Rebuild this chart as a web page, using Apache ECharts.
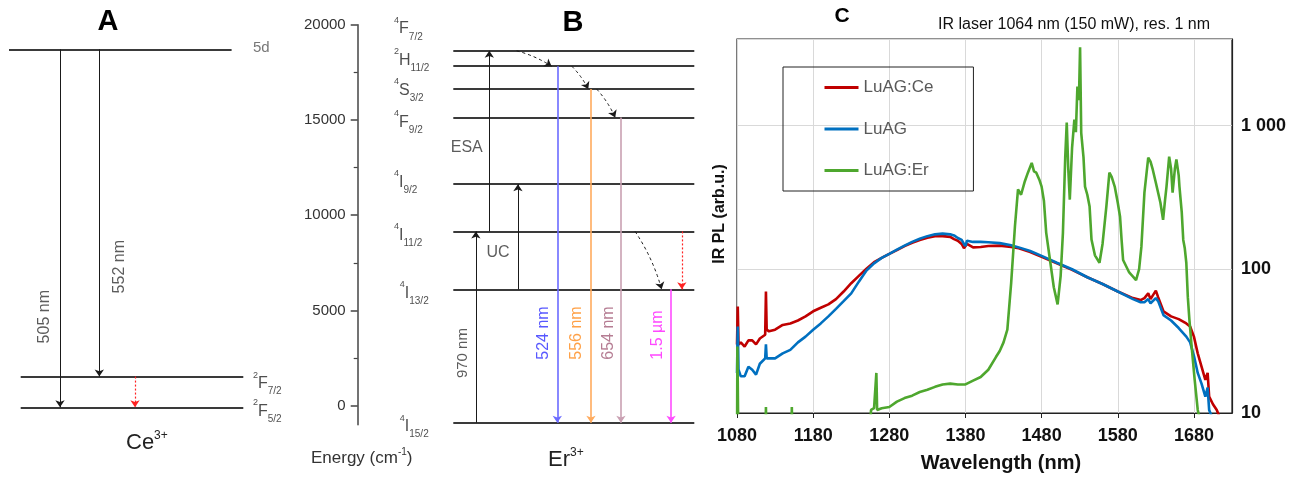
<!DOCTYPE html>
<html>
<head>
<meta charset="utf-8">
<script src="https://cdn.jsdelivr.net/npm/echarts@6/dist/echarts.min.js"></script>
<style>
html, body { margin: 0; background: #fff; }
#chart { width: 1296px; height: 477px; }
</style>
</head>
<body>
<div id="chart"></div>
<script>
/************************** A : Ce3+ levels **************************/
var ceLevelNames = ['5d', '2F7/2', '2F5/2'];
var ceLevelEnergy = [19800, 1700, 0];            // cm-1
var ceTransLabel = ['505 nm', '552 nm', ''];
var ceTransFrom = ['5d', '5d', '2F7/2'];
var ceTransTo = ['2F5/2', '2F7/2', '2F5/2'];
var ceTransKind = ['abs', 'abs', 'dot'];

/************************** B : Er3+ levels **************************/
var erLevelNames = ['4F7/2', '2H11/2', '4S3/2', '4F9/2', '4I9/2', '4I11/2', '4I13/2', '4I15/2'];
var erLevelEnergy = [18630, 17820, 16620, 15130, 11630, 9150, 6110, -890];
var energyTicks = [0, 5000, 10000, 15000, 20000];
var energyMinorTicks = [2500, 7500, 12500, 17500];
var erTransLabel = ['970 nm', 'ESA', 'UC', '524 nm', '556 nm', '654 nm', '1.5 µm', '', '', '', '', ''];
var erTransFrom = ['4I15/2', '4I11/2', '4I13/2', '2H11/2', '4S3/2', '4F9/2', '4I13/2', '4I11/2', '4F7/2', '2H11/2', '4S3/2', '4I11/2'];
var erTransTo = ['4I11/2', '4F7/2', '4I9/2', '4I15/2', '4I15/2', '4I15/2', '4I15/2', '4I13/2', '2H11/2', '4S3/2', '4F9/2', '4I13/2'];
var erTransKind = ['abs', 'abs', 'abs', 'blue', 'orange', 'mauve', 'magenta', 'dot', 'nr', 'nr', 'nr', 'nr'];

/************************** C : IR PL spectra **************************/
var wlTicks = [1080, 1180, 1280, 1380, 1480, 1580, 1680];
var wlCe = [1080, 1081, 1082, 1085, 1090, 1095, 1100, 1105, 1110, 1117, 1118, 1119, 1122, 1130, 1140, 1150,
    1160, 1170, 1180, 1190, 1200, 1210, 1220, 1230, 1240, 1250, 1260, 1270, 1280, 1290, 1300, 1310, 1320,
    1330, 1340, 1350, 1360, 1365, 1370, 1375, 1378, 1380, 1382, 1390, 1400, 1410, 1425, 1440, 1450, 1465,
    1480, 1500, 1520, 1540, 1560, 1580, 1600, 1610, 1615, 1620, 1623, 1630, 1633, 1640, 1650, 1660, 1670,
    1675, 1680, 1685, 1690, 1695, 1698, 1700, 1705, 1710, 1715];
var luagCe = [30, 55, 30, 31, 29, 32, 32, 30, 33, 35, 70, 38, 37, 38, 41, 42,
    44, 47, 51, 54, 57, 62, 70, 80, 90, 101, 112, 120, 128, 136, 145, 153, 160,
    166, 170, 170, 168, 162, 158, 150, 140, 136, 150, 142, 143, 145, 146, 143, 140, 132,
    122, 110, 99, 88, 79, 70, 63, 61, 63, 68, 62, 71, 64, 51, 47, 45, 42,
    40, 34, 26, 21, 17, 19, 13, 11.5, 10.5, 9];
var luag = [19, 40, 20, 18, 18, 21, 20, 18.5, 22, 24, 30, 24, 24, 24, 26, 27.5,
    31, 34, 38, 42, 47, 53, 60, 68, 82, 98, 110, 120, 128, 137, 146, 155, 163,
    170, 175, 177, 175, 172, 165, 160, 150, 145, 158, 155, 155, 154, 152, 147, 142, 134,
    124, 111, 100, 88, 79, 70, 62, 59, 59, 62, 58, 63, 60, 48, 44, 39, 34,
    31, 25, 19, 16, 13, 15, 10.5, 9, 8, 8];

var wlEr = [1080, 1080.5, 1081.5, 1082, 1117, 1118, 1119, 1151, 1152, 1153, 1253, 1256, 1260, 1262, 1263, 1264,
    1270, 1280, 1290, 1300, 1310, 1320, 1330, 1340, 1350, 1360, 1370, 1380, 1390, 1400, 1410, 1420, 1425,
    1430, 1435, 1440, 1445, 1449, 1453, 1458, 1462, 1467, 1470, 1473, 1477, 1480, 1483, 1486, 1491, 1496,
    1501, 1505, 1508, 1511, 1513, 1515, 1517, 1520, 1523, 1525, 1527, 1529, 1530.5, 1532, 1535, 1537, 1540,
    1543, 1545.5, 1550, 1556, 1560, 1565, 1569, 1572, 1576, 1580, 1583, 1585, 1587, 1595, 1600, 1604, 1608,
    1611, 1615, 1620, 1623, 1626, 1630, 1633, 1636, 1639.5, 1642, 1644, 1647.5, 1650, 1652, 1655, 1657, 1660,
    1661, 1664, 1666, 1668, 1670, 1672, 1674, 1677, 1681, 1685, 1690];
var luagEr = [5, 29, 29, 5, 5, 11, 5, 5, 11, 5, 5, 10.5, 10.8, 10.5, 19, 10.5,
    10.8, 11, 12, 12.7, 13.2, 14, 14.5, 15.2, 15.8, 16, 15.8, 15.8, 16.8, 17.8, 20, 24.5, 27,
    31, 38, 80, 200, 360, 330, 410, 470, 550, 480, 470, 420, 376, 300, 180, 116, 75,
    57, 90, 180, 600, 1050, 500, 305, 700, 1100, 900, 1870, 1500, 3500, 890, 600, 376, 330,
    273, 161, 125, 111, 150, 273, 470, 440, 376, 290, 232, 161, 116, 95, 89, 84, 100,
    143, 341, 598, 560, 493, 400, 341, 290, 221, 300, 376, 608, 500, 341, 500, 580, 450,
    376, 250, 160, 140, 111, 64, 45, 29, 17, 10.5, 8];

/************************** layout of the schematics **************************/
var layoutA = {
    levelX: [[3, 77.2], [6.9, 81.1], [6.9, 81.1]],
    labelX: 84.3,
    labelDy: [-1, 7, 4],
    arrowX: [20, 33.1, 45],
    arrowLabelX: [15, 40],
    arrowLabelE: [5011, 7776]
};
var layoutB = {
    levelX: [28.4, 100],
    labelX: [10.8, 10.8, 10.8, 10.8, 10.8, 10.8, 12.5, 12.5],
    labelDy: [-22, -6, 1, 5, -2, 4, 4, 4],
    arrowX: [[35.1, 35.1], [39.1, 39.1], [47.6, 47.6], [59.3, 59.3], [69.3, 69.3], [78.2, 78.2], [93.1, 93.1],
        [96.3, 96.3], [47.2, 57.6], [63.6, 68.5], [71.0, 76.5], [82.4, 90.3]],
    arrowLabelX: [31.3, 32.4, 41.7, 55.1, 65.1, 74.4, 89.2],
    arrowLabelE: [2765, 13573, 8027, 3814, 3814, 3814, 3709],
    arrowLabelRotate: [90, 0, 0, 90, 90, 90, 90]
};
var kindStyle = {
    abs: { color: '#1a1a1a', type: 'solid', width: 1, label: '#333' },
    dot: { color: '#ff2222', type: [2, 2], width: 1.2 },
    nr: { color: '#1a1a1a', type: [3, 3], width: 1, curveness: 0.08 },
    blue: { color: '#6b6bff', type: 'solid', width: 1.6, label: '#2e2eff' },
    orange: { color: '#ffab5e', type: 'solid', width: 1.6, label: '#ff8a1a' },
    mauve: { color: '#c9a0b2', type: 'solid', width: 1.6, label: '#a35c78' },
    magenta: { color: '#ff4dff', type: 'solid', width: 1.6, label: '#ff1aff' }
};

var FONT = '"Liberation Sans", Arial, sans-serif';
var termRich = {
    p: { fontSize: 9, lineHeight: 10, verticalAlign: 'top', color: '#222', fontFamily: FONT },
    m: { fontSize: 16, lineHeight: 26, color: '#222', fontFamily: FONT },
    b: { fontSize: 10, lineHeight: 10, verticalAlign: 'bottom', color: '#222', fontFamily: FONT },
    g: { fontSize: 15, lineHeight: 26, color: '#555', fontFamily: FONT }
};
function termText(name) {
    if (name === '5d') return '{g|5d}';
    return '{p|' + name[0] + '}{m|' + name[1] + '}{b|' + name.slice(2) + '}';
}
function pairs(xs, ys) {
    return xs.map(function (x, i) { return [x, ys[i]]; });
}
function plain(v) {
    return String(Math.round(v));
}

/* level lines, level labels, arrows and arrow labels of one schematic */
function schematic(idx, names, energy, tFrom, tTo, tKind, tLabel, lay) {
    var E = {};
    names.forEach(function (n, i) { E[n] = energy[i]; });
    var levels = names.map(function (n, i) {
        var xs = lay.levelX[0].length ? lay.levelX[i] : lay.levelX;
        return { coords: [[xs[0], energy[i]], [xs[1], energy[i]]] };
    });
    var labels = names.map(function (n, i) {
        var lx = Array.isArray(lay.labelX) ? lay.labelX[i] : lay.labelX;
        return { name: n, value: [lx, energy[i]], label: { offset: [0, lay.labelDy[i]] } };
    });
    var arrows = tFrom.map(function (f, i) {
        var st = kindStyle[tKind[i]];
        var ax = lay.arrowX[i];
        var x0 = Array.isArray(ax) ? ax[0] : ax, x1 = Array.isArray(ax) ? ax[1] : ax;
        return {
            coords: [[x0, E[f]], [x1, E[tTo[i]]]],
            lineStyle: { color: st.color, type: st.type, width: st.width, curveness: st.curveness || 0 }
        };
    });
    var arrowLabels = [];
    tLabel.forEach(function (t, i) {
        if (!t) return;
        var st = kindStyle[tKind[i]];
        var rot = lay.arrowLabelRotate ? lay.arrowLabelRotate[i] : 90;
        arrowLabels.push({
            name: t, value: [lay.arrowLabelX[i], lay.arrowLabelE[i]],
            label: { color: st.label, rotate: rot, fontSize: (t === '970 nm' ? 15 : 16) }
        });
    });
    return [
        { type: 'lines', coordinateSystem: 'cartesian2d', xAxisIndex: idx, yAxisIndex: idx, silent: true, clip: false,
          symbol: 'none', lineStyle: { color: '#3a3a3a', width: 2, opacity: 1 }, data: levels, z: 2 },
        { type: 'lines', coordinateSystem: 'cartesian2d', xAxisIndex: idx, yAxisIndex: idx, silent: true, clip: false,
          symbol: ['none', 'arrow'], symbolSize: 7, lineStyle: { opacity: 1 }, data: arrows, z: 3 },
        { type: 'scatter', xAxisIndex: idx, yAxisIndex: idx, symbolSize: 0, silent: true, clip: false,
          label: { show: true, position: 'right', distance: 0, formatter: function (p) { return termText(p.name); }, rich: termRich },
          data: labels },
        { type: 'scatter', xAxisIndex: idx, yAxisIndex: idx, symbolSize: 0, silent: true, clip: false,
          label: { show: true, position: 'inside', formatter: '{b}', fontFamily: FONT, fontSize: 16 },
          data: arrowLabels }
    ];
}

var spectrumSeries = [
    { name: 'LuAG:Ce', data: pairs(wlCe, luagCe), color: '#c00000' },
    { name: 'LuAG', data: pairs(wlCe, luag), color: '#0070c0' },
    { name: 'LuAG:Er', data: pairs(wlEr, luagEr), color: '#4ea72e' }
].map(function (s) {
    return {
        name: s.name, type: 'line', xAxisIndex: 2, yAxisIndex: 2, symbol: 'none', clip: true,
        data: s.data, itemStyle: { color: s.color }, lineStyle: { color: s.color, width: 2.6 }, z: 4
    };
});

var hidden = { show: false };

option = {
    animation: false,
    backgroundColor: '#fff',
    textStyle: { fontFamily: FONT },
    grid: [
        { left: 0, width: 300, top: 49.3, height: 358 },
        { left: 357.7, width: 336.6, top: 24.7, height: 400.1 },
        { left: 737, right: 64, top: 39, bottom: 64, show: true, borderColor: '#222', borderWidth: 1.2 }
    ],
    xAxis: [
        { gridIndex: 0, type: 'value', min: 0, max: 100, show: false },
        { gridIndex: 1, type: 'value', min: 0, max: 100, show: false },
        { gridIndex: 2, type: 'value', min: 1080, max: 1730,
          axisLine: { lineStyle: { color: '#222', width: 1.2 } },
          axisTick: { customValues: wlTicks, length: 5, lineStyle: { color: '#222' } },
          axisLabel: { customValues: wlTicks, formatter: plain, color: '#111', fontWeight: 'bold', fontSize: 18, margin: 14 },
          splitLine: { show: true, lineStyle: { color: '#d9d9d9', width: 1 } } }
    ],
    yAxis: [
        { gridIndex: 0, type: 'value', min: 0, max: 19800, show: false },
        { gridIndex: 1, type: 'value', min: -1000, max: 20000, position: 'left',
          axisLine: { show: true, lineStyle: { color: '#444', width: 1.5 } },
          axisTick: { show: true, customValues: energyTicks, length: 7, lineStyle: { color: '#444', width: 1.5 } },
          axisLabel: { customValues: energyTicks, formatter: plain, color: '#333', fontSize: 15, margin: 12 },
          splitLine: hidden },
        { gridIndex: 2, type: 'log', logBase: 10, min: 10, max: 4000, position: 'right',
          axisLine: { show: true, lineStyle: { color: '#222', width: 1.2 } },
          axisTick: hidden,
          axisLabel: { color: '#111', fontWeight: 'bold', fontSize: 18, margin: 9,
              formatter: function (v) {
                  var r = Math.round(v);
                  if (r === 1000) return '1 000';
                  if (r === 10 || r === 100) return String(r);
                  return '';
              } },
          splitLine: { show: true, lineStyle: { color: '#d9d9d9', width: 1 } } },
        { gridIndex: 1, type: 'value', min: -1000, max: 20000, position: 'left', offset: 0,
          axisLine: hidden, axisLabel: hidden, splitLine: hidden,
          axisTick: { show: true, customValues: energyMinorTicks, length: 4, lineStyle: { color: '#444', width: 1.2 } } }
    ],
    legend: {
        data: ['LuAG:Ce', 'LuAG', 'LuAG:Er'],
        orient: 'vertical', left: 783, top: 67,
        borderColor: '#222', borderWidth: 1, borderRadius: 0,
        padding: [12, 40, 12, 40], itemGap: 24.5, itemWidth: 34, itemHeight: 14,
        itemStyle: { opacity: 0 },
        lineStyle: { width: 3 },
        textStyle: { color: '#595959', fontSize: 17, fontFamily: FONT }
    },
    graphic: [
        { type: 'text', x: 108, y: 22, style: { text: 'A', font: 'bold 29px ' + FONT, fill: '#000', align: 'center', verticalAlign: 'middle' } },
        { type: 'text', x: 573, y: 23, style: { text: 'B', font: 'bold 29px ' + FONT, fill: '#000', align: 'center', verticalAlign: 'middle' } },
        { type: 'text', x: 842, y: 16, style: { text: 'C', font: 'bold 21px ' + FONT, fill: '#000', align: 'center', verticalAlign: 'middle' } },
        { type: 'text', x: 938, y: 25, style: { text: 'IR laser 1064 nm (150 mW), res. 1 nm', font: '16px ' + FONT, fill: '#111', align: 'left', verticalAlign: 'middle' } },
        { type: 'text', x: 126, y: 443, style: { text: '{a|Ce}{s|3+}', align: 'left', verticalAlign: 'middle',
            rich: { a: { fontSize: 22, lineHeight: 26, fontFamily: FONT, fill: '#222' }, s: { fontSize: 12, lineHeight: 12, verticalAlign: 'top', fontFamily: FONT, fill: '#222' } } } },
        { type: 'text', x: 548, y: 460, style: { text: '{a|Er}{s|3+}', align: 'left', verticalAlign: 'middle',
            rich: { a: { fontSize: 22, lineHeight: 26, fontFamily: FONT, fill: '#222' }, s: { fontSize: 12, lineHeight: 12, verticalAlign: 'top', fontFamily: FONT, fill: '#222' } } } },
        { type: 'text', x: 311, y: 458, style: { text: '{a|Energy (cm}{s|-1}{a|)}', align: 'left', verticalAlign: 'middle',
            rich: { a: { fontSize: 17, lineHeight: 22, fontFamily: FONT, fill: '#333' }, s: { fontSize: 10, lineHeight: 10, verticalAlign: 'top', fontFamily: FONT, fill: '#333' } } } },
        { type: 'text', x: 720, y: 214, rotation: Math.PI / 2, style: { text: 'IR PL (arb.u.)', font: 'bold 16px ' + FONT, fill: '#111', align: 'center', verticalAlign: 'middle' } },
        { type: 'text', x: 1001, y: 463, style: { text: 'Wavelength (nm)', font: 'bold 20px ' + FONT, fill: '#111', align: 'center', verticalAlign: 'middle' } }
    ],
    series: []
        .concat(schematic(0, ceLevelNames, ceLevelEnergy, ceTransFrom, ceTransTo, ceTransKind, ceTransLabel, layoutA))
        .concat(schematic(1, erLevelNames, erLevelEnergy, erTransFrom, erTransTo, erTransKind, erTransLabel, layoutB))
        .concat(spectrumSeries)
};

myChart = echarts.init(document.getElementById('chart'));
myChart.setOption(option);
</script>
</body>
</html>
